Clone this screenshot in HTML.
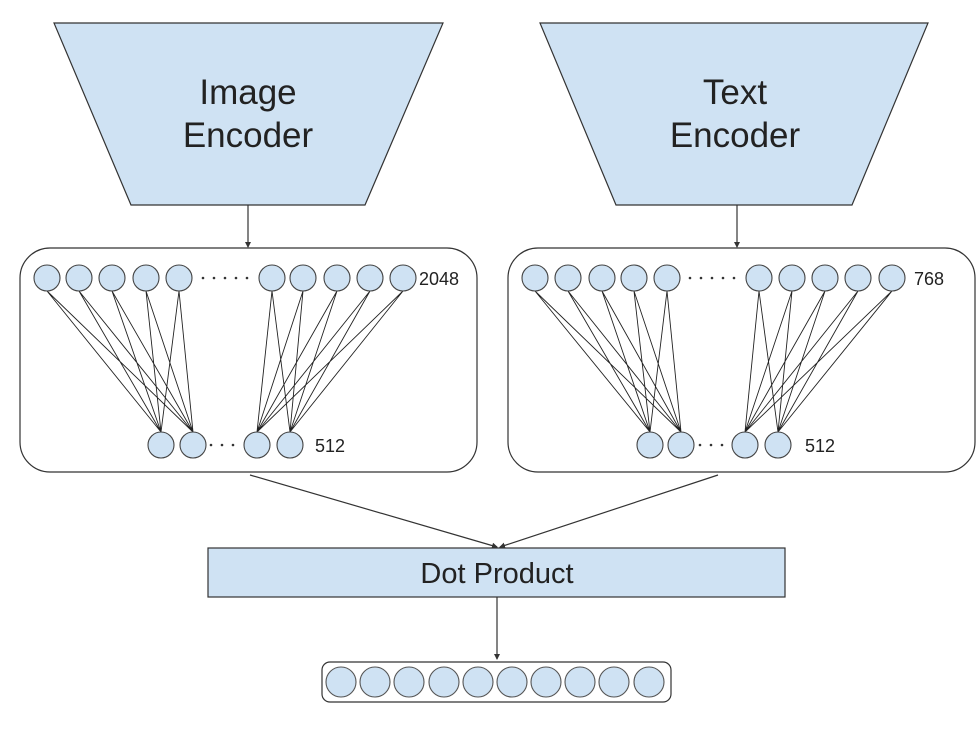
<!DOCTYPE html>
<html><head><style>body{margin:0;background:#fff}svg{display:block}</style></head><body>
<svg width="978" height="733" viewBox="0 0 978 733" xmlns="http://www.w3.org/2000/svg" font-family="Liberation Sans, Arial, sans-serif">
<defs><marker id="a" markerWidth="6" markerHeight="6" refX="5" refY="3" orient="auto" markerUnits="userSpaceOnUse"><path d="M0,0 L6,3 L0,6 z" fill="#333"/></marker></defs>
<g stroke="#333" stroke-width="1.2">
<polygon points="54,23 443,23 365,205 131,205" fill="#cfe2f3"/>
<polygon points="540,23 928,23 852,205 616,205" fill="#cfe2f3"/>
<line x1="248" y1="205" x2="248" y2="247" marker-end="url(#a)"/>
<line x1="737" y1="205" x2="737" y2="247" marker-end="url(#a)"/>
<rect x="20" y="248" width="457" height="224" rx="30" fill="none"/>
<rect x="508" y="248" width="467" height="224" rx="30" fill="none"/>
<line x1="250" y1="475" x2="497" y2="547" marker-end="url(#a)"/>
<line x1="718" y1="475" x2="500" y2="547" marker-end="url(#a)"/>
<rect x="208" y="548" width="577" height="49" fill="#cfe2f3"/>
<line x1="497" y1="597" x2="497" y2="659" marker-end="url(#a)"/>
<rect x="322" y="662" width="349" height="40" rx="8" fill="none"/>
</g>
<g font-size="35" fill="#222" text-anchor="middle">
<text x="248" y="104">Image</text><text x="248" y="147">Encoder</text>
<text x="735" y="104">Text</text><text x="735" y="147">Encoder</text>
</g>
<text x="497" y="583" font-size="29" fill="#222" text-anchor="middle">Dot Product</text>
<g stroke="#222" stroke-width="0.9">
<path d="M47,291L161,432M47,291L193,432M79,291L161,432M79,291L193,432M112,291L161,432M112,291L193,432M146,291L161,432M146,291L193,432M179,291L161,432M179,291L193,432"/>
<path d="M272,291L257,432M272,291L290,432M303,291L257,432M303,291L290,432M337,291L257,432M337,291L290,432M370,291L257,432M370,291L290,432M403,291L257,432M403,291L290,432"/>
<path d="M535,291L650,432M535,291L681,432M568,291L650,432M568,291L681,432M602,291L650,432M602,291L681,432M634,291L650,432M634,291L681,432M667,291L650,432M667,291L681,432"/>
<path d="M759,291L745,432M759,291L778,432M792,291L745,432M792,291L778,432M825,291L745,432M825,291L778,432M858,291L745,432M858,291L778,432M892,291L745,432M892,291L778,432"/>
</g>
<g fill="#cfe2f3" stroke="#444" stroke-width="1.1">
<circle cx="47" cy="278" r="13"/><circle cx="79" cy="278" r="13"/><circle cx="112" cy="278" r="13"/><circle cx="146" cy="278" r="13"/><circle cx="179" cy="278" r="13"/>
<circle cx="272" cy="278" r="13"/><circle cx="303" cy="278" r="13"/><circle cx="337" cy="278" r="13"/><circle cx="370" cy="278" r="13"/><circle cx="403" cy="278" r="13"/>
<circle cx="161" cy="445" r="13"/><circle cx="193" cy="445" r="13"/><circle cx="257" cy="445" r="13"/><circle cx="290" cy="445" r="13"/>
<circle cx="535" cy="278" r="13"/><circle cx="568" cy="278" r="13"/><circle cx="602" cy="278" r="13"/><circle cx="634" cy="278" r="13"/><circle cx="667" cy="278" r="13"/>
<circle cx="759" cy="278" r="13"/><circle cx="792" cy="278" r="13"/><circle cx="825" cy="278" r="13"/><circle cx="858" cy="278" r="13"/><circle cx="892" cy="278" r="13"/>
<circle cx="650" cy="445" r="13"/><circle cx="681" cy="445" r="13"/><circle cx="745" cy="445" r="13"/><circle cx="778" cy="445" r="13"/>
</g>
<g fill="#cfe2f3" stroke="#555" stroke-width="1.1">
<circle cx="341" cy="682" r="15"/><circle cx="375" cy="682" r="15"/><circle cx="409" cy="682" r="15"/><circle cx="444" cy="682" r="15"/><circle cx="478" cy="682" r="15"/><circle cx="512" cy="682" r="15"/><circle cx="546" cy="682" r="15"/><circle cx="580" cy="682" r="15"/><circle cx="614" cy="682" r="15"/><circle cx="649" cy="682" r="15"/>
</g>
<g fill="#333">
<circle cx="203" cy="278" r="1.3"/><circle cx="214" cy="278" r="1.3"/><circle cx="225" cy="278" r="1.3"/><circle cx="236" cy="278" r="1.3"/><circle cx="247" cy="278" r="1.3"/>
<circle cx="690" cy="278" r="1.3"/><circle cx="701" cy="278" r="1.3"/><circle cx="712" cy="278" r="1.3"/><circle cx="723" cy="278" r="1.3"/><circle cx="734" cy="278" r="1.3"/>
<circle cx="211" cy="445" r="1.3"/><circle cx="222" cy="445" r="1.3"/><circle cx="233" cy="445" r="1.3"/>
<circle cx="700" cy="445" r="1.3"/><circle cx="711" cy="445" r="1.3"/><circle cx="722" cy="445" r="1.3"/>
</g>
<g font-size="18" fill="#222">
<text x="419" y="285">2048</text><text x="315" y="452">512</text>
<text x="914" y="285">768</text><text x="805" y="452">512</text>
</g>
</svg>
</body></html>
